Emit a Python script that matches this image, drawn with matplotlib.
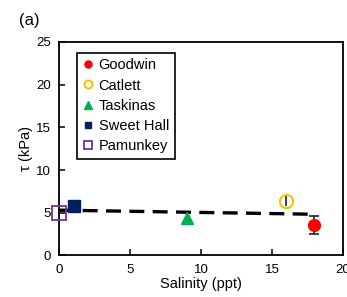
import matplotlib
matplotlib.use("Agg")
import matplotlib.pyplot as plt

plt.rcParams['font.family'] = ['Liberation Sans', 'DejaVu Sans']

sites = ["Goodwin", "Catlett", "Taskinas", "Sweet Hall", "Pamunkey"]
salinity = [18, 16, 9, 1, 0]
tau = [3.6, 6.4, 4.4, 5.8, 5.0]
tau_err = [1.05, 0.65, 0.0, 0.0, 0.0]

# linear trend line
fit_x = [0, 18]
fit_y = [5.3, 4.82]

styles = {
    "Goodwin": dict(marker='o', color='#ff0000', mfc='#ff0000', ms=8.5),
    "Catlett": dict(marker='o', color='#ffc000', mfc='none', ms=9.5, mew=1.5),
    "Taskinas": dict(marker='^', color='#00b050', mfc='#00b050', ms=9),
    "Sweet Hall": dict(marker='s', color='#002060', mfc='#002060', ms=8),
    "Pamunkey": dict(marker='s', color='#7030a0', mfc='none', ms=9.5, mew=1.3),
}

fig = plt.figure(figsize=(3.47, 2.97), dpi=100)
ax = fig.add_axes([0.171, 0.140, 0.817, 0.719])

ax.plot(fit_x, fit_y, color='black', lw=2.4, ls=(0, (4.5, 2.5)), zorder=2)

for name, x, y, e in zip(sites, salinity, tau, tau_err):
    st = styles[name]
    if e > 0:
        ax.errorbar(x, y, yerr=e, fmt='none', ecolor='#222222', elinewidth=1.2,
                    capsize=3.5 if name == "Goodwin" else 0, capthick=1.2, zorder=3)
    ax.plot(x, y, ls='none', marker=st['marker'], color=st['color'],
            markerfacecolor=st['mfc'], markeredgecolor=st['color'],
            markersize=st['ms'], markeredgewidth=st.get('mew', 1.0),
            label=name, zorder=4, clip_on=False)

ax.set_xlim(0, 20)
ax.set_ylim(0, 25)
ax.set_xticks([0, 5, 10, 15, 20])
ax.set_yticks([0, 5, 10, 15, 20, 25])
ax.tick_params(direction='in', length=4, width=1.1, labelsize=9.5, pad=6)
for s in ax.spines.values():
    s.set_linewidth(1.3)

ax.set_xlabel("Salinity (ppt)", fontsize=10.5, labelpad=1)
ax.set_ylabel("τ (kPa)", fontsize=10.5, labelpad=2)

leg = ax.legend(loc='upper left', bbox_to_anchor=(0.064, 0.95), fontsize=10.5,
                markerscale=0.6, handlelength=0.6, handletextpad=0.45,
                borderpad=0.4, labelspacing=0.42, borderaxespad=0,
                fancybox=False, edgecolor='black', framealpha=1)
leg.get_frame().set_linewidth(1.2)

fig.text(0.055, 0.955, "(a)", fontsize=12, va='top', ha='left')

fig.savefig("out.png", dpi=100)
